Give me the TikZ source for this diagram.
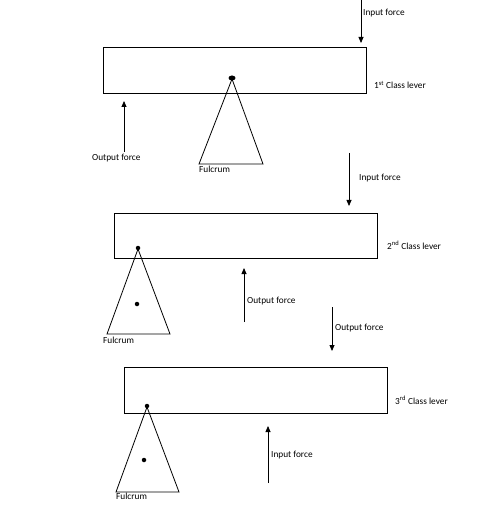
\documentclass[tikz,border=0pt]{standalone}
\usepackage{fontspec}
\setmainfont{Carlito}
\usetikzlibrary{arrows.meta,shapes.geometric}
\tikzset{
  lever/.style={draw, line width=0.9pt, inner sep=0pt},
  fulc/.style={draw, line width=0.8pt},
  force/.style={line width=0.8pt, -{Triangle[length=6pt,width=5pt]}},
  lbl/.style={anchor=west, inner sep=0pt, font=\fontsize{9.3}{11}\selectfont},
  pivot/.style={circle, fill=black, inner sep=0pt, minimum size=4.5pt},
}
\begin{document}
\begin{tikzpicture}[x=1pt,y=-1pt]
\useasboundingbox (0,0) rectangle (490,518);
% ---- 1st class lever
\draw[lever] (103,47) rectangle (366,93);
\node[ellipse, fill=black, inner sep=0pt, minimum width=7pt, minimum height=5pt] (p1) at (232,78) {};
\coordinate (a1) at (232,79);
\coordinate (b1l) at (199,164);
\coordinate (b1r) at (263,164);
\draw[fulc] (a1) -- (b1l) -- (b1r) -- cycle;
\node[lbl] (f1) at (199,169.5) {Fulcrum};
\coordinate (i1s) at (361,0);
\coordinate (i1e) at (361,43);
\draw[force] (i1s) -- (i1e);
\node[lbl] (i1) at (363,13) {Input force};
\coordinate (o1s) at (124,152);
\coordinate (o1e) at (124,101);
\draw[force] (o1s) -- (o1e);
\node[lbl] (o1) at (92,158) {Output force};
\node[lbl] (c1) at (374,85) {1\textsuperscript{st} Class lever};
% ---- 2nd class lever
\draw[lever] (114,213) rectangle (377,258);
\node[pivot] (p2) at (138,248) {};
\node[pivot] (q2) at (137,304) {};
\coordinate (a2) at (138,249);
\coordinate (b2l) at (107,334);
\coordinate (b2r) at (170,334);
\draw[fulc] (a2) -- (b2l) -- (b2r) -- cycle;
\node[lbl] (f2) at (103,340) {Fulcrum};
\coordinate (i2s) at (349,153);
\coordinate (i2e) at (349,206);
\draw[force] (i2s) -- (i2e);
\node[lbl] (i2) at (359,178) {Input force};
\coordinate (o2s) at (244,322);
\coordinate (o2e) at (244,268);
\draw[force] (o2s) -- (o2e);
\node[lbl] (o2) at (247,301) {Output force};
\coordinate (d2s) at (332,307);
\coordinate (d2e) at (332,351);
\draw[force] (d2s) -- (d2e);
\node[lbl] (d2) at (335,328) {Output force};
\node[lbl] (c2) at (387,245) {2\textsuperscript{nd} Class lever};
% ---- 3rd class lever
\draw[lever] (124,367) rectangle (387,413);
\node[pivot] (p3) at (147,406) {};
\node[pivot] (q3) at (144,460) {};
\coordinate (a3) at (147,407);
\coordinate (b3l) at (116,492);
\coordinate (b3r) at (179,492);
\draw[fulc] (a3) -- (b3l) -- (b3r) -- cycle;
\node[lbl] (f3) at (116,496.5) {Fulcrum};
\coordinate (i3s) at (268,483);
\coordinate (i3e) at (268,426);
\draw[force] (i3s) -- (i3e);
\node[lbl] (i3) at (271,455) {Input force};
\node[lbl] (c3) at (395,400) {3\textsuperscript{rd} Class lever};
\end{tikzpicture}
\end{document}
